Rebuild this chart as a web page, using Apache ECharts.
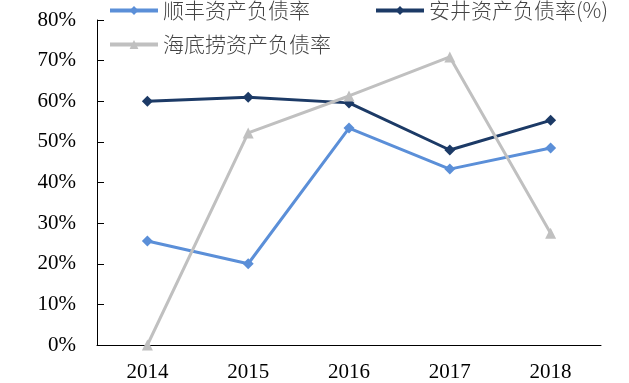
<!DOCTYPE html>
<html><head><meta charset="utf-8">
<script src="https://cdn.jsdelivr.net/npm/echarts@6/dist/echarts.min.js"></script>
<style>html,body{margin:0;padding:0;background:#fff}#c{width:629px;height:383px}</style>
</head><body><div id="c"></div>
<script>
const categories = ['2014','2015','2016','2017','2018'];
const sfValues = [25.6, 20.0, 53.4, 43.3, 48.5];
const ajValues = [60.0, 61.0, 59.6, 48.0, 55.3];
const hdlValues = [0.0, 52.2, 61.3, 70.9, 27.5];
const seriesNames = ['顺丰资产负债率', '安井资产负债率(%)', '海底捞资产负债率'];

const chart = echarts.init(document.getElementById('c'));
const serif = '"Liberation Serif","Times New Roman",serif';
const cjk = '"Noto Sans CJK SC",sans-serif';
const legendText = {fontFamily: cjk, fontSize: 21, color: '#444', fontWeight: 300};
const legendBase = {itemWidth: 48, itemHeight: 11, itemGap: 6, padding: 0, textStyle: legendText, lineStyle: {width: 4}};
chart.setOption({
  animation: false,
  backgroundColor: '#fff',
  legend: [
    Object.assign({data: [seriesNames[0]], left: 108, top: 0}, legendBase),
    Object.assign({data: [seriesNames[1]], left: 374, top: 0}, legendBase),
    Object.assign({data: [seriesNames[2]], left: 108, top: 34}, legendBase)
  ],
  grid: {left: 97, right: 28, top: 20, bottom: 38, containLabel: false},
  xAxis: {
    type: 'category', data: categories, boundaryGap: true,
    axisLine: {lineStyle: {color: '#000', width: 1}},
    axisTick: {inside: true, length: 6, lineStyle: {color: '#000'}},
    axisLabel: {fontFamily: serif, fontSize: 21, color: '#000', margin: 17}
  },
  yAxis: {
    type: 'value', min: 0, max: 80, interval: 10,
    axisLine: {show: true, lineStyle: {color: '#000', width: 1}},
    axisTick: {show: true, inside: true, length: 7, lineStyle: {color: '#000'}},
    splitLine: {show: false},
    axisLabel: {formatter: '{value}%', fontFamily: serif, fontSize: 21, color: '#000', margin: 21}
  },
  series: [
    {name: seriesNames[0], type: 'line', data: sfValues, symbol: 'diamond', symbolSize: 11,
     lineStyle: {color: '#5B8FD8', width: 3}, itemStyle: {color: '#5B8FD8'}},
    {name: seriesNames[1], type: 'line', data: ajValues, symbol: 'diamond', symbolSize: 11,
     lineStyle: {color: '#1C3A66', width: 3}, itemStyle: {color: '#1C3A66'}},
    {name: seriesNames[2], type: 'line', data: hdlValues, symbol: 'triangle', symbolSize: 11,
     lineStyle: {color: '#C0C0C0', width: 3}, itemStyle: {color: '#C0C0C0'}}
  ]
});
</script></body></html>
